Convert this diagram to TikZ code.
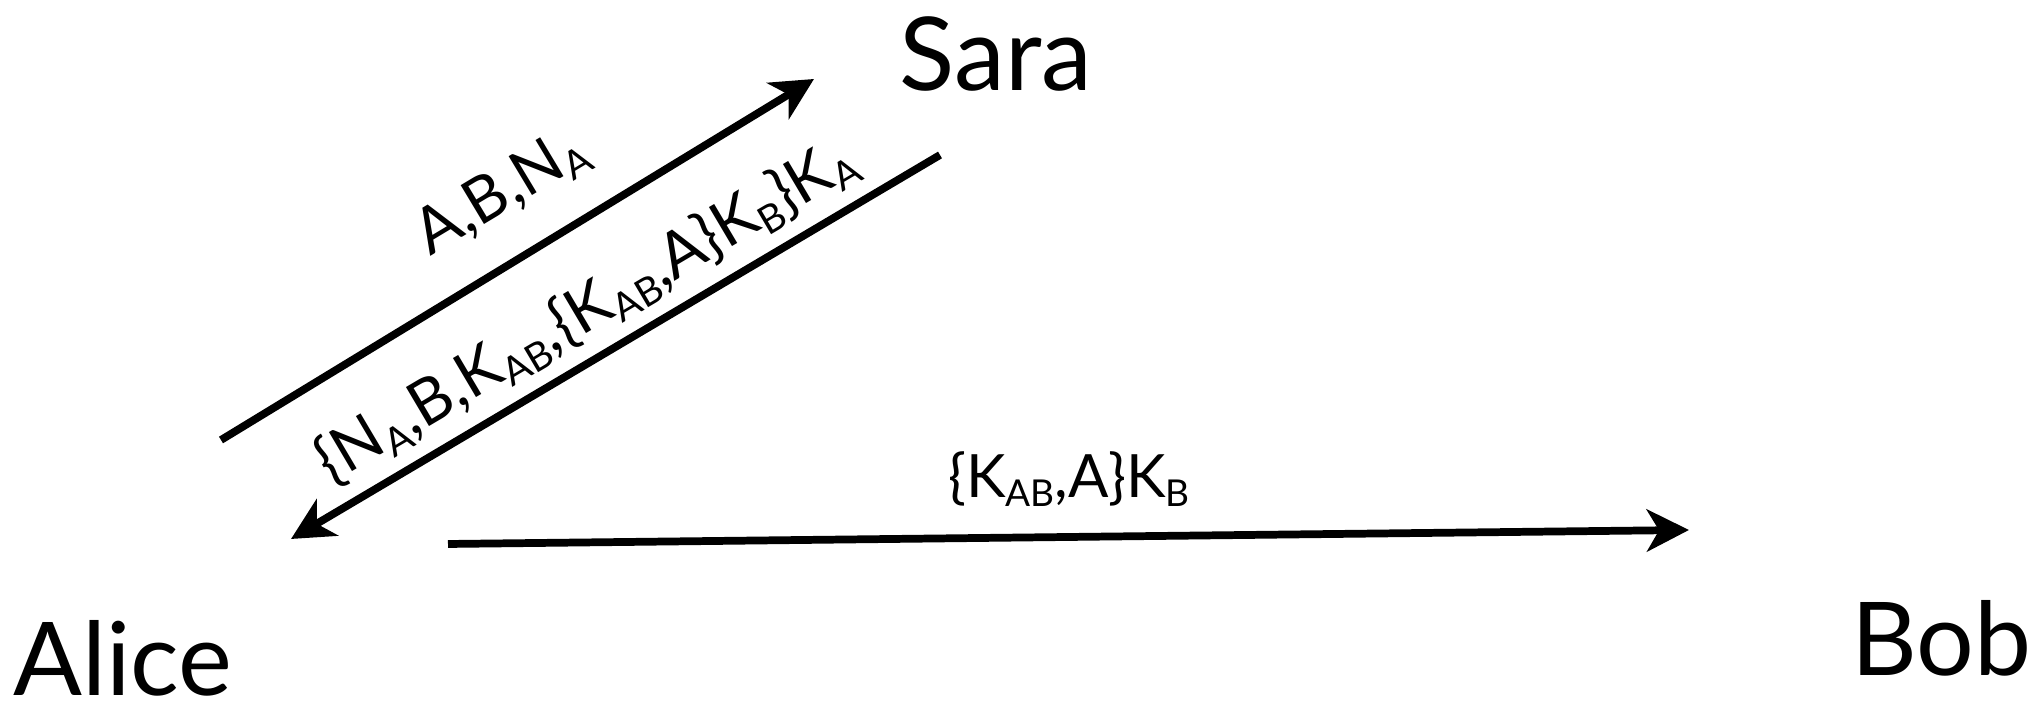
\documentclass[tikz,border=0pt]{standalone}
\usepackage{fontspec}
\setmainfont{Lato}
\usetikzlibrary{arrows.meta, positioning}

\newcommand{\lsub}[1]{\raisebox{-0.3ex}{\scalebox{0.62}{#1}}}

\begin{document}
\begin{tikzpicture}[
    party/.style={font=\fontsize{29}{35}\selectfont, anchor=base, inner sep=0pt},
    msg/.style={font=\fontsize{18}{22}\selectfont, inner sep=0pt},
    link/.style={draw, black, line width=2.2pt, -{Stealth[length=12pt, width=12pt, inset=3.5pt]}}]

    \useasboundingbox (0,0) rectangle (20.37,7.08);

    % --- Principals ---
    \node[party] (sara) at (9.96,6.17) {Sara};
    \node[party] (alice) at (1.23,0.12) {Alice};
    \node[party] (bob) at (19.41,0.32) {Bob};

    % --- Arrow ends ---
    \coordinate (a_out) at (2.21,2.68);
    \coordinate (s_in) at (8.14,6.29);
    \coordinate (s_out) at (9.40,5.53);
    \coordinate (a_in) at (2.91,1.69);
    \coordinate (a_out2) at (4.48,1.64);
    \coordinate (b_in) at (16.89,1.78);

    % --- Messages ---
    \draw[link] (a_out) -- (s_in);
    \draw[link] (s_out) -- (a_in);
    \draw[link] (a_out2) -- (b_in);

    \node[msg, rotate=31] (m1) at (5.02,5.15) {A,B,N\lsub{A}};
    \node[msg, rotate=30.6] (m2) at (5.86,3.97)
        {\{N\lsub{A},B,K\lsub{AB},\{K\lsub{AB},A\}K\lsub{B}\}K\lsub{A}};
    \node[msg, font=\fontsize{17}{20}\selectfont] (m3) at (10.69,2.29) {\{K\lsub{AB},A\}K\lsub{B}};

\end{tikzpicture}
\end{document}
